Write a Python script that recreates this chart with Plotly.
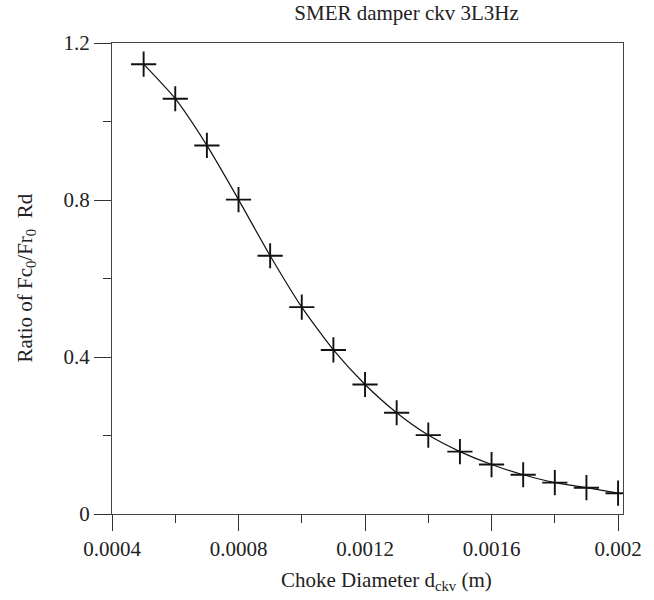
import plotly.graph_objects as go

# Data
diameter = [0.0005, 0.0006, 0.0007, 0.0008, 0.0009, 0.0010, 0.0011, 0.0012,
            0.0013, 0.0014, 0.0015, 0.0016, 0.0017, 0.0018, 0.0019, 0.0020]
ratio = [1.146, 1.058, 0.939, 0.801, 0.658, 0.527, 0.418, 0.330,
         0.258, 0.201, 0.159, 0.126, 0.100, 0.080, 0.067, 0.053]

x_tick_vals = [0.0004, 0.0008, 0.0012, 0.0016, 0.0020]
x_tick_labels = ["0.0004", "0.0008", "0.0012", "0.0016", "0.002"]
y_tick_vals = [0, 0.4, 0.8, 1.2]
y_tick_labels = ["0", "0.4", "0.8", "1.2"]

FONT = "Liberation Serif, Times New Roman, serif"
INK = "#222222"

# plot area in pixels
L, R, T, B = 112, 629, 43, 514
W, H = 654, 600

fig = go.Figure()
fig.add_trace(go.Scatter(
    x=diameter, y=ratio, mode="lines+markers",
    line=dict(color="#111111", width=1.2, shape="spline", smoothing=0.6),
    marker=dict(symbol="cross-thin", size=18, line=dict(color="#111111", width=1.9)),
    showlegend=False,
))

fig.update_layout(
    width=W, height=H,
    margin=dict(l=L, r=W - R, t=T, b=H - B),
    paper_bgcolor="white", plot_bgcolor="white",
    font=dict(family=FONT, color=INK, size=21),
    title=dict(text="SMER damper ckv 3L3Hz", x=377 / W, xref="paper", xanchor="center",
               y=1 - 13 / H, yanchor="middle", font=dict(size=21, family=FONT, color=INK)),
    annotations=[
        dict(text="Choke Diameter d<sub>ckv</sub> (m)", xref="paper", yref="paper",
             x=(390 - L) / (R - L), y=-(581 - B) / (B - T),
             xanchor="center", yanchor="middle", showarrow=False,
             font=dict(size=21, family=FONT, color=INK)),
        dict(text="Ratio of Fc<sub>0</sub>/Fr<sub>0</sub>&nbsp; Rd", xref="paper", yref="paper",
             x=(24 - L) / (R - L), y=0.5, textangle=-90,
             xanchor="center", yanchor="middle", showarrow=False,
             font=dict(size=21, family=FONT, color=INK)),
    ],
)

fig.update_xaxes(
    range=[0.0004, 0.0020156],
    tickmode="array", tickvals=x_tick_vals, ticktext=x_tick_labels,
    ticks="outside", ticklen=16, tickwidth=1.2, tickcolor="#333333",
    minor=dict(ticks="outside", ticklen=8, tickwidth=1.2, tickcolor="#333333",
               dtick=0.0002, tick0=0.0004, showgrid=False),
    showline=True, linecolor="#444444", linewidth=1.3, mirror=True,
    showgrid=False, zeroline=False,
    tickfont=dict(size=21, family=FONT, color=INK),
)
fig.update_yaxes(
    range=[0, 1.2],
    tickmode="array", tickvals=y_tick_vals, ticktext=y_tick_labels,
    ticks="outside", ticklen=17, tickwidth=1.2, tickcolor="#333333",
    minor=dict(ticks="outside", ticklen=8, tickwidth=1.2, tickcolor="#333333",
               dtick=0.2, tick0=0, showgrid=False),
    showline=True, linecolor="#444444", linewidth=1.3, mirror=True,
    showgrid=False, zeroline=False,
    tickfont=dict(size=21, family=FONT, color=INK),
)

fig.write_html("out.html")
